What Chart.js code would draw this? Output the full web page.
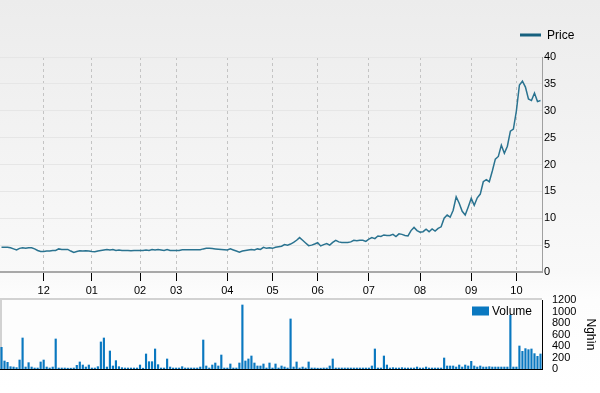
<!DOCTYPE html>
<html>
<head>
<meta charset="utf-8">
<script src="https://cdn.jsdelivr.net/npm/chart.js@4.4.0/dist/chart.umd.min.js"></script>
<style>
  html, body { margin: 0; padding: 0; }
  body {
    width: 600px; height: 393px; overflow: hidden; position: relative;
    background: linear-gradient(#ececec 0px, #f9f9f9 272px, #fdfdfd 300px, #ffffff 393px);
  }
  #priceBox { position: absolute; left: 0; top: 0; width: 600px; height: 298px; }
  #volumeBox { position: absolute; left: 0; top: 290px; width: 600px; height: 103px; }
</style>
</head>
<body>
<div id="priceBox"><canvas id="priceChart"></canvas></div>
<div id="volumeBox"><canvas id="volumeChart"></canvas></div>
<script>
// month labels and the index of the first trading day of each month
const monthLabels = ['12', '01', '02', '03', '04', '05', '06', '07', '08', '09', '10'];
const monthStart = [14, 30, 46, 58, 75, 90, 105, 122, 139, 156, 171];

// closing price (thousand VND)
const price = [
  4.6, 4.6, 4.6, 4.5, 4.3, 4.1, 4.4, 4.5, 4.4, 4.5,
  4.5, 4.3, 4.0, 3.8, 3.8, 3.9, 3.9, 4.0, 4.0, 4.3,
  4.2, 4.2, 4.2, 3.9, 3.65, 3.8, 3.95, 3.9, 3.95, 3.9,
  3.8, 3.75, 3.9, 4.0, 4.1, 4.2, 4.1, 4.2, 4.0, 4.1,
  4.0, 4.0, 4.0, 3.95, 4.0, 4.0, 4.0, 4.0, 4.1, 4.0,
  4.2, 4.1, 4.2, 4.1, 4.0, 4.2, 4.0, 4.0, 4.0, 4.0,
  4.15, 4.15, 4.15, 4.15, 4.15, 4.15, 4.15, 4.3, 4.4, 4.4,
  4.35, 4.3, 4.25, 4.2, 4.15, 4.1, 4.3, 4.1, 3.9, 3.7,
  3.9, 4.0, 4.1, 4.2, 4.1, 4.3, 4.2, 4.6, 4.4, 4.5,
  4.4, 4.6, 4.7, 4.8, 5.1, 5.0, 5.2, 5.5, 5.9, 6.4,
  5.9, 5.4, 4.9, 5.0, 5.2, 5.45, 4.85, 5.1, 5.3, 5.0,
  5.5, 5.9, 5.6, 5.5, 5.5, 5.5, 5.6, 5.9, 5.8, 5.9,
  5.9, 5.7, 6.1, 6.4, 6.2, 6.7, 6.6, 6.9, 6.8, 6.8,
  7.0, 6.6, 7.1, 7.0, 6.8, 6.7, 7.7, 8.3, 7.7, 7.4,
  7.5, 7.95, 7.5, 8.0, 7.6, 8.1, 8.4, 10.0, 10.6, 10.2,
  11.5, 14.0, 12.8, 11.3, 10.6, 12.1, 13.7, 12.4, 13.8, 14.5,
  16.8, 17.2, 16.8, 18.8, 21.0, 21.5, 23.6, 22.1, 23.4, 26.2,
  26.6, 30.0, 34.8, 35.5, 34.4, 32.2, 31.9, 33.3, 31.7, 31.9
];

// traded volume (thousand shares)
const volume = [
  383, 145, 122, 46, 40, 30, 162, 545, 40, 116,
  40, 23, 23, 128, 162, 40, 23, 40, 528, 23,
  23, 23, 20, 20, 23, 70, 128, 75, 40, 75,
  23, 23, 46, 476, 545, 40, 319, 58, 151, 46,
  29, 23, 23, 23, 23, 23, 75, 20, 267, 133,
  133, 354, 81, 23, 23, 180, 40, 23, 23, 23,
  46, 23, 23, 23, 23, 23, 40, 510, 58, 23,
  75, 110, 58, 249, 23, 23, 93, 23, 23, 110,
  1119, 145, 180, 232, 110, 58, 58, 93, 23, 110,
  23, 93, 23, 58, 40, 23, 876, 40, 128, 23,
  40, 23, 128, 23, 23, 20, 20, 23, 23, 58,
  180, 23, 23, 23, 23, 23, 23, 23, 23, 23,
  23, 23, 23, 58, 354, 23, 23, 232, 75, 23,
  29, 23, 23, 29, 23, 23, 23, 23, 40, 23,
  23, 40, 23, 23, 23, 23, 23, 197, 58, 58,
  58, 40, 75, 40, 75, 58, 139, 58, 40, 58,
  40, 40, 46, 40, 40, 40, 40, 40, 40, 945,
  40, 40, 406, 313, 360, 342, 354, 273, 226, 267
];

const FONT = '"Liberation Sans", Arial, sans-serif';
Chart.defaults.font.family = FONT;
Chart.defaults.font.size = 11;
Chart.defaults.color = '#000';

const xMin = -0.5;
const xMax = price.length - 0.5;

// simple legend drawn in a fixed corner
const cornerLegend = {
    id: 'cornerLegend',
    afterDraw(chart, args, opts) {
        const ctx = chart.ctx;
        ctx.save();
        if (opts.kind === 'line') {
            ctx.strokeStyle = opts.color;
            ctx.lineWidth = 3;
            ctx.beginPath();
            ctx.moveTo(opts.x, opts.y);
            ctx.lineTo(opts.x + 21, opts.y);
            ctx.stroke();
        } else {
            ctx.fillStyle = opts.color;
            ctx.fillRect(opts.x, opts.y - 4.5, 17, 9);
        }
        ctx.fillStyle = '#000';
        ctx.font = '12px ' + FONT;
        ctx.textBaseline = 'middle';
        ctx.fillText(opts.text, opts.textX, opts.y + 1);
        ctx.restore();
    }
};

// frame of the volume panel (top and left edges)
const panelFrame = {
    id: 'panelFrame',
    beforeDatasetsDraw(chart) {
        const {ctx, chartArea: a} = chart;
        ctx.save();
        ctx.fillStyle = '#fdfdfd';
        ctx.fillRect(a.left, a.top, a.right - a.left, a.bottom - a.top);
        ctx.strokeStyle = '#d2d2d2';
        ctx.lineWidth = 2;
        ctx.beginPath();
        ctx.moveTo(a.left + 1, a.bottom);
        ctx.lineTo(a.left + 1, a.top - 1);
        ctx.lineTo(a.right, a.top - 1);
        ctx.stroke();
        ctx.restore();
    }
};

// Price chart
new Chart(document.getElementById('priceChart'), {
    type: 'line',
    data: {
        datasets: [{
            label: 'Price',
            data: price.map((v, i) => ({x: i, y: v})),
            borderColor: '#2a7390',
            borderWidth: 1.5,
            pointRadius: 0,
            tension: 0,
            fill: false
        }]
    },
    options: {
        responsive: true,
        maintainAspectRatio: false,
        animation: false,
        events: [],
        layout: { padding: { top: 57, left: 0, right: 0, bottom: 0 } },
        plugins: {
            legend: { display: false },
            tooltip: { enabled: false },
            cornerLegend: { kind: 'line', text: 'Price', color: '#17607e', x: 520, y: 35, textX: 547 }
        },
        scales: {
            x: {
                type: 'linear',
                offset: false,
                min: xMin,
                max: xMax,
                afterBuildTicks: scale => { scale.ticks = monthStart.map(v => ({value: v})); },
                afterFit: scale => { scale.height = 26; },
                ticks: {
                    autoSkip: false,
                    maxRotation: 0,
                    padding: 3,
                    callback: v => monthLabels[monthStart.indexOf(v)]
                },
                grid: {
                    color: '#c4c4c4',
                    tickColor: '#000',
                    tickLength: 9,
                    tickWidth: 1
                },
                border: { color: '#a8a8a8', width: 2, dash: [3, 3] }
            },
            y: {
                position: 'right',
                min: 0,
                max: 40,
                afterFit: scale => { scale.width = 58; },
                ticks: { stepSize: 5, padding: 2 },
                grid: { color: '#e6e6e6', drawTicks: false },
                border: { color: '#a0a0a0', width: 1 }
            }
        }
    },
    plugins: [cornerLegend]
});

// Volume chart
new Chart(document.getElementById('volumeChart'), {
    type: 'bar',
    data: {
        datasets: [{
            label: 'Volume',
            data: volume.map((v, i) => ({x: i, y: v})),
            backgroundColor: '#0a78c0',
            barPercentage: 0.72,
            categoryPercentage: 1
        }]
    },
    options: {
        responsive: true,
        maintainAspectRatio: false,
        animation: false,
        events: [],
        layout: { padding: { top: 10, left: 0, right: 0, bottom: 0 } },
        plugins: {
            legend: { display: false },
            tooltip: { enabled: false },
            cornerLegend: { kind: 'box', text: 'Volume', color: '#0a78c0', x: 472, y: 21, textX: 492 }
        },
        scales: {
            x: {
                type: 'linear',
                offset: false,
                min: xMin,
                max: xMax,
                afterFit: scale => { scale.height = 24; },
                ticks: { display: false },
                grid: { display: false },
                border: { color: '#000', width: 2 }
            },
            y: {
                position: 'right',
                min: 0,
                max: 1200,
                afterFit: scale => { scale.width = 58; },
                ticks: { stepSize: 200, padding: 2, autoSkip: false, callback: v => String(v) },
                grid: { display: false },
                border: { color: '#000', width: 1 },
                title: {
                    display: true,
                    text: 'Nghìn',
                    font: { size: 12 },
                    padding: { top: 2, bottom: 0 }
                }
            }
        }
    },
    plugins: [panelFrame, cornerLegend]
});
</script>
</body>
</html>
